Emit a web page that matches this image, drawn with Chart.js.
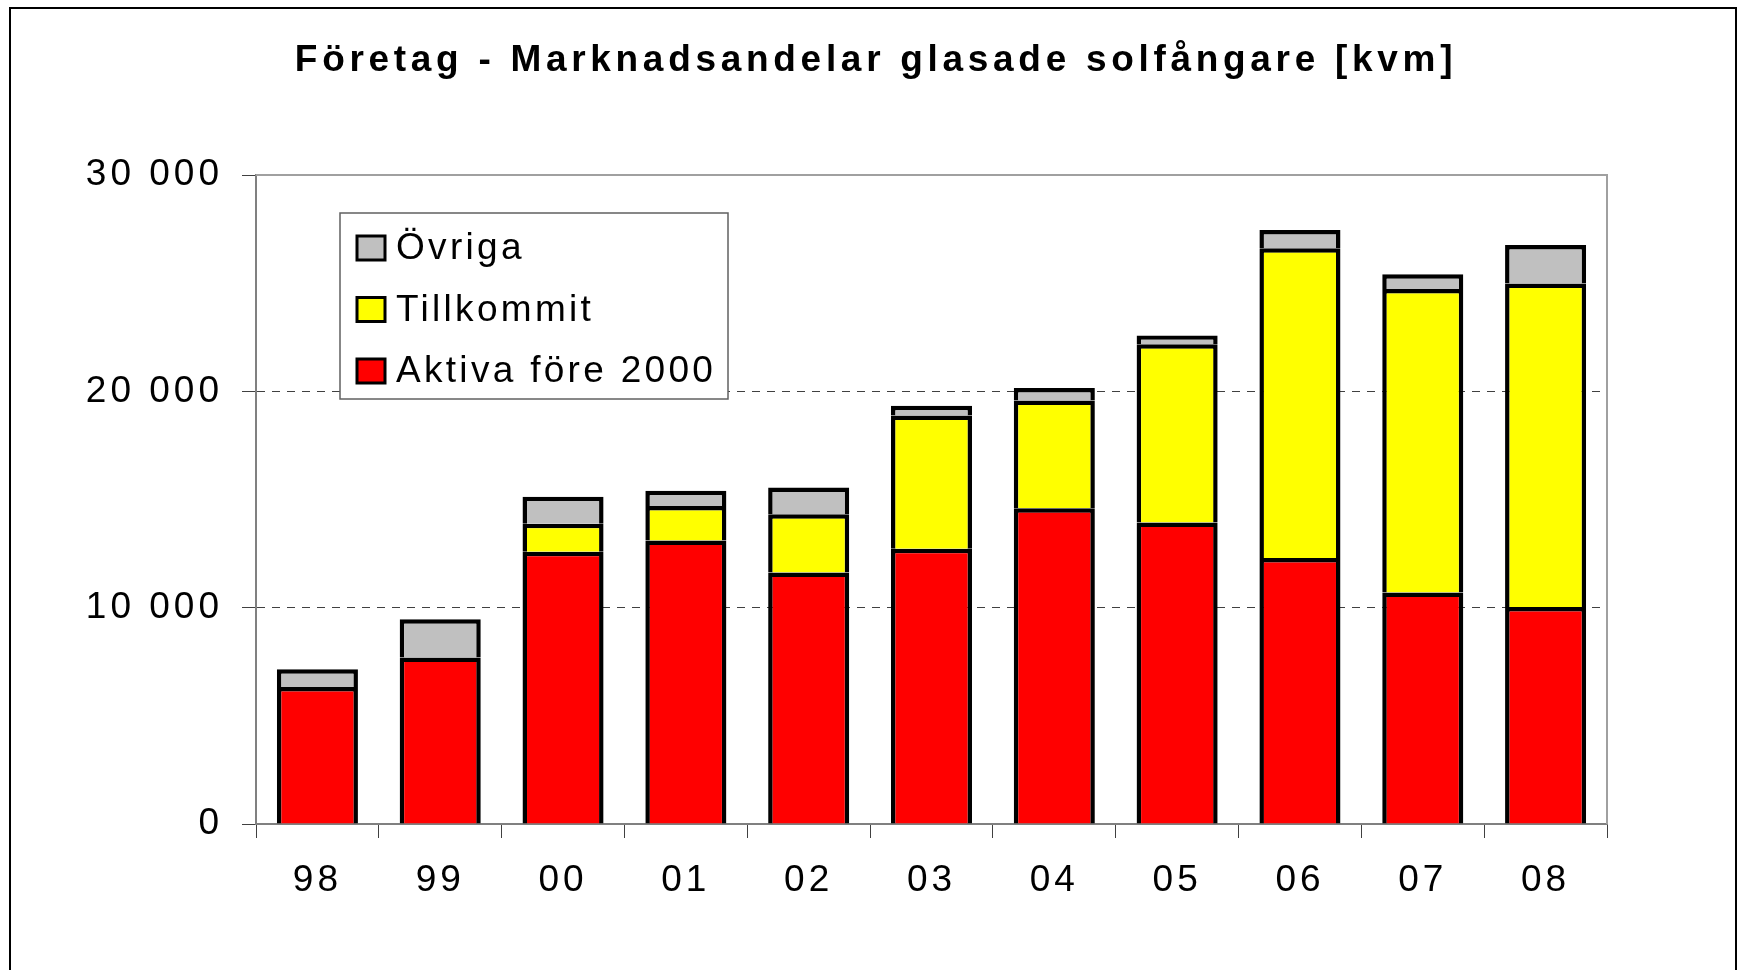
<!DOCTYPE html>
<html>
<head>
<meta charset="utf-8">
<script src="https://cdn.jsdelivr.net/npm/chart.js@4.4.1/dist/chart.umd.min.js"></script>
<style>
  html, body { margin: 0; padding: 0; background: #fff; }
  #wrap { width: 1746px; height: 970px; }
</style>
</head>
<body>
<div id="wrap"><canvas id="MarketChart" width="1746" height="970"></canvas></div>
<script>
// chart data
var chartTitle = "Företag - Marknadsandelar glasade solfångare [kvm]";
var years = ["98", "99", "00", "01", "02", "03", "04", "05", "06", "07", "08"];
var aktiva = [6330, 7700, 12580, 13100, 11620, 12720, 14600, 13940, 12300, 10700, 10030];
var tillkommit = [null, null, 1300, 1600, 2700, 6160, 4980, 8240, 14310, 14030, 14960];
var ovriga = [820, 1760, 1250, 710, 1230, 450, 570, 400, 850, 680, 1780];
var seriesNames = ["Aktiva före 2000", "Tillkommit", "Övriga"];
var seriesColors = ["#ff0000", "#ffff00", "#c0c0c0"];
var yMax = 30000;
var yStep = 10000;

var FONT = "'Liberation Sans', Arial, sans-serif";

function formatThousands(v) {
    // "30 000" style
    return String(v).replace(/\B(?=(\d{3})+(?!\d))/g, " ");
}

// frame, title, plot border and boxed legend
var decorPlugin = {
    id: 'decor',
    beforeDraw: function (chart) {
        var ctx = chart.ctx;
        ctx.save();
        ctx.fillStyle = "#fff";
        ctx.fillRect(0, 0, chart.width, chart.height);
        ctx.strokeStyle = "#000";
        ctx.lineWidth = 2;
        ctx.strokeRect(10, 8, chart.width - 20, chart.height + 20);
        ctx.restore();

        ctx.save();
        ctx.letterSpacing = "4.7px";
        ctx.font = "bold 37px " + FONT;
        ctx.fillStyle = "#000";
        ctx.textAlign = "center";
        ctx.textBaseline = "middle";
        ctx.fillText(chartTitle, 876, 61);
        ctx.restore();

        // wide letter spacing for axis labels
        ctx.letterSpacing = "4px";
    },
    afterDraw: function (chart) {
        var ctx = chart.ctx;
        var area = chart.chartArea;

        // top and right plot border
        ctx.save();
        ctx.strokeStyle = "#a0a0a0";
        ctx.lineWidth = 2;
        ctx.beginPath();
        ctx.moveTo(area.left, area.top);
        ctx.lineTo(area.right, area.top);
        ctx.lineTo(area.right, area.bottom);
        ctx.stroke();
        ctx.restore();

        // legend box
        var bx = area.left + 84, by = area.top + 38, bw = 388, bh = 186;
        ctx.save();
        ctx.letterSpacing = "3.3px";
        ctx.fillStyle = "#fff";
        ctx.fillRect(bx, by, bw, bh);
        ctx.strokeStyle = "#606060";
        ctx.lineWidth = 1.5;
        ctx.strokeRect(bx, by, bw, bh);
        ctx.font = "37px " + FONT;
        ctx.textBaseline = "middle";
        ctx.textAlign = "left";
        var ds = chart.data.datasets;
        for (var i = 0; i < ds.length; ++i) {
            var d = ds[ds.length - 1 - i];
            var cy = by + 35 + i * 61.5;
            ctx.fillStyle = d.backgroundColor;
            ctx.fillRect(bx + 17, cy - 12, 28, 24);
            ctx.strokeStyle = "#000";
            ctx.lineWidth = 3;
            ctx.strokeRect(bx + 17, cy - 12, 28, 24);
            ctx.fillStyle = "#000";
            ctx.fillText(d.label, bx + 56, cy + 1);
        }
        ctx.restore();
    }
};

var datasets = [];
var seriesValues = [aktiva, tillkommit, ovriga];
for (var i = 0; i < seriesValues.length; ++i) {
    datasets.push({
        label: seriesNames[i],
        data: seriesValues[i],
        backgroundColor: seriesColors[i],
        borderColor: "#000000",
        borderWidth: 4.5,
        borderSkipped: 'start', // lower edge is covered by the segment below / the axis
        inflateAmount: 0,
        categoryPercentage: 1.0,
        barPercentage: 0.66
    });
}

var canvas = document.getElementById("MarketChart");
var MarketChart = new Chart(canvas, {
    type: 'bar',
    data: {
        labels: years,
        datasets: datasets
    },
    plugins: [decorPlugin],
    options: {
        responsive: false,
        animation: false,
        events: [],
        layout: {
            padding: {top: 175, left: 0, right: 139, bottom: 0}
        },
        scales: {
            x: {
                stacked: true,
                grid: {
                    offset: true,
                    drawOnChartArea: false,
                    drawTicks: true,
                    tickLength: 14,
                    tickColor: "#404040",
                    tickWidth: 1
                },
                border: {display: true, color: "#808080", width: 2},
                ticks: {
                    color: "#000",
                    padding: 21,
                    font: {family: FONT, size: 37}
                },
                afterFit: function (scale) { scale.height = 146; }
            },
            y: {
                stacked: true,
                min: 0,
                max: yMax,
                grid: {
                    color: function (c) {
                        var v = c.tick ? c.tick.value : 0;
                        return (v > 0 && v < yMax) ? "#404040" : "rgba(0,0,0,0)";
                    },
                    lineWidth: 1,
                    drawTicks: true,
                    tickLength: 14,
                    tickColor: "#404040",
                    tickWidth: 1
                },
                border: {display: true, color: "#808080", width: 2, dash: [8, 7]},
                ticks: {
                    stepSize: yStep,
                    color: "#000",
                    padding: 19,
                    font: {family: FONT, size: 37},
                    callback: function (v) { return formatThousands(v); }
                },
                afterFit: function (scale) { scale.width = 256; }
            }
        },
        plugins: {
            legend: {display: false},
            title: {display: false},
            tooltip: {enabled: false}
        }
    }
});
</script>
</body>
</html>
